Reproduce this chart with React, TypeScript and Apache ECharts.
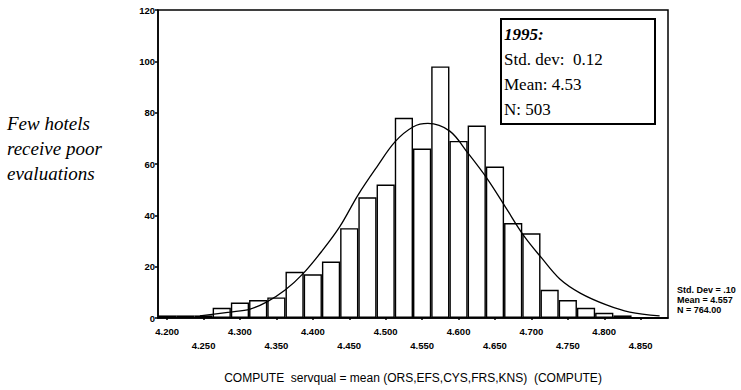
import React, { useEffect, useRef } from 'react';
import * as echarts from 'echarts';

// Histogram bins (bin midpoints, width 0.025) and frequencies
const binCenters = [
  '4.200', '4.225', '4.250', '4.275', '4.300', '4.325', '4.350', '4.375',
  '4.400', '4.425', '4.450', '4.475', '4.500', '4.525', '4.550', '4.575',
  '4.600', '4.625', '4.650', '4.675', '4.700', '4.725', '4.750', '4.775',
  '4.800', '4.825', '4.850', '4.875',
];
const frequencies = [
  1, 1, 1, 4, 6, 7, 8, 18,
  17, 22, 35, 47, 52, 78, 66, 98,
  69, 75, 59, 37, 33, 11, 7, 4,
  2, 1, 0, 0,
];

// Fitted normal curve
const curveX = [
  4.245, 4.286, 4.314, 4.337, 4.362, 4.387, 4.412, 4.437, 4.462, 4.488, 4.513, 4.538,
  4.558, 4.588, 4.613, 4.639, 4.664, 4.689, 4.714, 4.739, 4.767, 4.803, 4.835, 4.876,
];
const curveY = [
  0.8, 2.3, 3.5, 6.3, 10.9, 17.4, 25.9, 35.6, 47.9, 58.9, 68.7, 74.5,
  75.8, 72.8, 64.2, 54.4, 43.4, 32.3, 23.4, 15.2, 9.7, 5.1, 2.3, 0.8,
];

const xMin = 4.1875;
const xMax = 4.8875;
const yMax = 120;
const yStep = 20;

const statLines = ['Std. Dev = .10', 'Mean = 4.557', 'N = 764.00'];
const boxLines = ['1995:', 'Std. dev:  0.12', 'Mean: 4.53', 'N: 503'];
const sideNote = ['Few hotels', 'receive poor', 'evaluations'];
const footnote = 'COMPUTE  servqual = mean (ORS,EFS,CYS,FRS,KNS)  (COMPUTE)';

const narrow = "'Liberation Sans Narrow', 'Liberation Sans', Arial, sans-serif";
const serif = "'Liberation Serif', 'Times New Roman', serif";

export default function App() {
  const ref = useRef<HTMLDivElement>(null);

  useEffect(() => {
    if (!ref.current) return;
    const chart = echarts.init(ref.current, undefined, { renderer: 'svg' });

    const graphic: any[] = [];
    sideNote.forEach((t, i) => {
      graphic.push({
        type: 'text', x: 7, y: 123 + i * 25, z: 100,
        style: { text: t, fontSize: 19, fontStyle: 'italic', fontFamily: serif, fill: '#000', verticalAlign: 'middle' },
      });
    });
    graphic.push({
      type: 'rect', z: 100,
      shape: { x: 501, y: 19, width: 154, height: 105 },
      style: { fill: '#fff', stroke: '#000', lineWidth: 2 },
    });
    boxLines.forEach((t, i) => {
      graphic.push({
        type: 'text', x: 504, y: 34 + i * 25, z: 101,
        style: {
          text: t, fontSize: 17, fontFamily: serif,
          fontStyle: i === 0 ? 'italic' : 'normal', fontWeight: i === 0 ? 'bold' : 'normal',
          fill: '#000', verticalAlign: 'middle',
        },
      });
    });
    statLines.forEach((t, i) => {
      graphic.push({
        type: 'text', x: 677, y: 290 + i * 10, z: 100,
        style: { text: t, fontSize: 9, fontWeight: 'bold', fontFamily: narrow, fill: '#000', verticalAlign: 'middle' },
      });
    });
    graphic.push({
      type: 'text', x: 413, y: 378, z: 100,
      style: { text: footnote, fontSize: 12, fontFamily: "'Liberation Sans', Arial, sans-serif", fill: '#000', align: 'center', verticalAlign: 'middle' },
    });

    chart.setOption({
      animation: false,
      backgroundColor: '#fff',
      grid: [{
        left: 158, top: 10, width: 510, height: 308,
        show: true, borderColor: '#000', borderWidth: 1.5, backgroundColor: 'transparent',
      }],
      xAxis: [
        {
          type: 'category', gridIndex: 0, data: binCenters, boundaryGap: true,
          axisLine: { show: true, lineStyle: { color: '#000', width: 1.5 } },
          axisTick: { show: true, interval: 1, alignWithLabel: true, length: 2, lineStyle: { color: '#000', width: 1.5 } },
          axisLabel: {
            interval: 1, color: '#000', fontSize: 9.5, fontWeight: 'bold', fontFamily: narrow,
            margin: 6, lineHeight: 14,
            formatter: (v: string, i: number) => (i % 4 === 2 ? '\n' + v : v),
          },
          splitLine: { show: false },
        },
        { type: 'value', gridIndex: 0, min: xMin, max: xMax, show: false },
      ],
      yAxis: [{
        type: 'value', gridIndex: 0, min: 0, max: yMax, interval: yStep,
        axisLine: { show: true, lineStyle: { color: '#000', width: 1.5 } },
        axisTick: { show: true, length: 3, lineStyle: { color: '#000', width: 1.5 } },
        axisLabel: { color: '#000', fontSize: 9.5, fontWeight: 'bold', fontFamily: narrow, margin: 3 },
        splitLine: { show: false },
      }],
      series: [
        {
          type: 'bar', xAxisIndex: 0, yAxisIndex: 0, data: frequencies,
          barCategoryGap: '0%', barWidth: '100%',
          itemStyle: { color: '#fff', borderColor: '#000', borderWidth: 1.4 },
        },
        {
          type: 'line', xAxisIndex: 1, yAxisIndex: 0,
          data: curveX.map((x, i) => [x, curveY[i]]),
          smooth: 0.35, showSymbol: false, symbol: 'none',
          lineStyle: { color: '#000', width: 1.3 },
          z: 3,
        },
      ],
      graphic,
    });

    return () => chart.dispose();
  }, []);

  return (
    <div
      ref={ref}
      style={{ position: 'fixed', left: 0, top: 0, width: 741, height: 390, background: '#fff' }}
    />
  );
}
